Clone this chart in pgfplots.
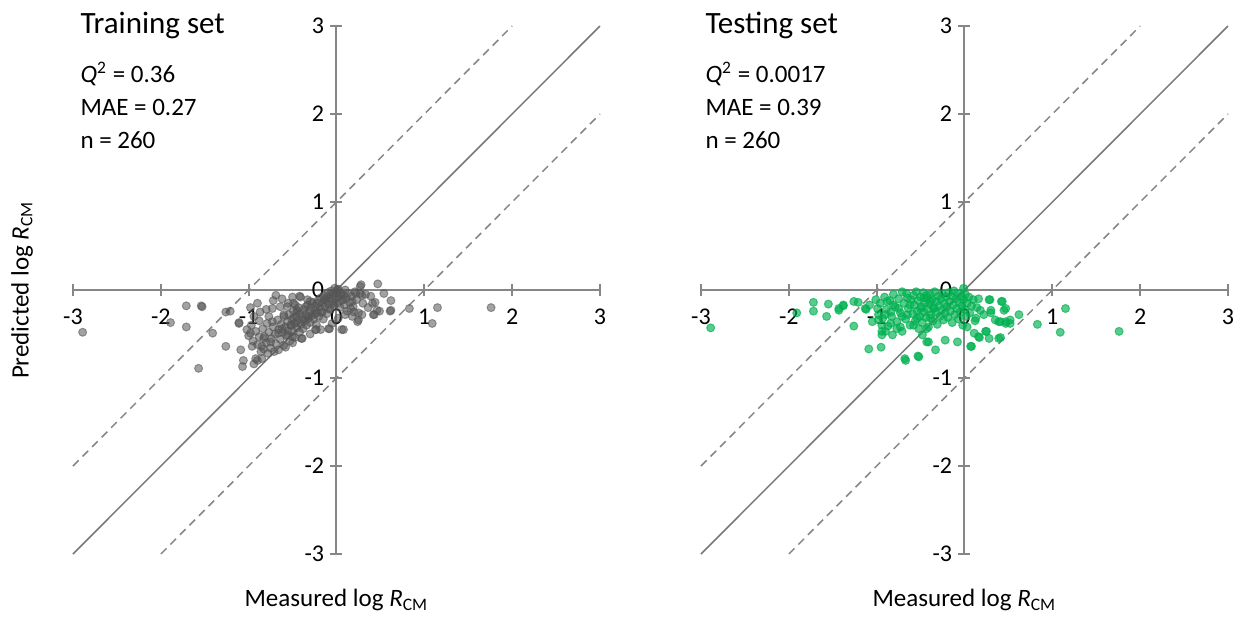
\documentclass[border=0pt]{standalone}
\usepackage{fontspec}
\setmainfont{Carlito}
\usepackage{pgfplots}
\pgfplotsset{compat=1.18}
\definecolor{axgray}{RGB}{134,134,134}
\definecolor{diaggray}{RGB}{120,120,120}
\definecolor{ptgray}{RGB}{85,85,85}
\definecolor{ptgreen}{RGB}{0,176,80}
\pgfplotsset{
  panel/.style={anchor=south west, scale only axis, width=210.8pt, height=211.2pt,
    xmin=-3, xmax=3, ymin=-3, ymax=3, axis lines=middle,
    axis line style={draw=axgray, line width=0.8pt, -},
    xtick={-3,-2,-1,0,1,2,3}, ytick={-3,-2,-1,0,1,2,3},
    tick align=center, major tick length=4.8pt,
    tick style={draw=axgray, line width=0.8pt},
    hide obscured x ticks=false, hide obscured y ticks=false,
    /pgf/number format/assume math mode=true,
    tick label style={font=\fontsize{9.6}{11}\selectfont},
    xticklabel style={yshift=-1.5pt}, yticklabel style={xshift=1pt},
    clip=false},
  diag/.style={diaggray, line width=0.6pt, no marks},
  dash/.style={axgray, line width=0.6pt, no marks, dash pattern=on 3.2pt off 2.2pt},
}
\begin{document}
\begin{tikzpicture}
\path[use as bounding box] (0,0) rectangle (493.2pt,247.2pt);
% training
\begin{axis}[panel, at={(29.2pt,25.6pt)}]
  \addplot[diag] coordinates {(-3,-3)(3,3)};
  \addplot[dash] coordinates {(-3,-2)(2,3)};
  \addplot[dash] coordinates {(-2,-3)(3,2)};
  \addplot[only marks, mark=*, mark size=1.6pt, color=ptgray, opacity=0.55] coordinates {
    (-2.89,-0.48)(-1.71,-0.18)(-1.54,-0.18)(-1.89,-0.37)(-1.71,-0.42)(-1.57,-0.89)
    (-1.41,-0.49)(-1.26,-0.64)(-1.26,-0.25)(-1.21,-0.24)(-1.11,-0.37)(-1.09,-0.68)
    (-1.06,-0.80)(-1.07,-0.87)(-0.90,-0.80)(-0.69,-0.06)(-0.42,-0.07)(-1.53,-0.19)
    (0.47,0.07)(0.28,0.06)(0.54,-0.04)(0.62,-0.12)(0.61,-0.24)(0.83,-0.21)
    (1.15,-0.20)(1.09,-0.38)(1.76,-0.20)(0.49,-0.24)(0.43,-0.28)(0.29,-0.28)
    (0.24,-0.36)(0.08,-0.45)(-0.08,-0.44)(-0.23,-0.45)(0.44,-0.14)(0.39,-0.07)
    (0.27,-0.04)(0.20,-0.25)
    (-0.94,-0.84)(-0.92,-0.78)(-0.96,-0.64)(-0.85,-0.64)(-0.83,-0.67)
    (-1.11,-0.38)(-1.02,-0.45)(-0.98,-0.49)(-0.88,-0.53)(-0.83,-0.55)
    (-0.87,-0.25)(-0.94,-0.30)(-0.77,-0.30)(-0.73,-0.36)(-0.73,-0.21)(-0.64,-0.19)
    (-0.41,-0.08)(-0.33,-0.11)(-0.75,-0.59)(-0.71,-0.70)(-0.66,-0.49)(-0.62,-0.44)
    (-0.56,-0.51)(-0.52,-0.40)(-0.49,-0.32)(-0.45,-0.25)(-0.60,-0.28)(-0.56,-0.19)(-0.47,-0.17)
    (-0.49,-0.15)(-0.45,-0.23)(-0.35,-0.19)(-0.30,-0.13)(-0.22,-0.15)(-0.14,-0.11)
    (-0.11,-0.08)(-0.05,-0.04)(0.01,0.00)(0.05,-0.06)(0.08,-0.11)(-0.03,-0.15)
    (-0.09,-0.21)(-0.16,-0.25)(-0.24,-0.27)(-0.32,-0.30)(-0.39,-0.34)(-0.47,-0.38)
    (-0.50,-0.53)(-0.39,-0.55)(-0.24,-0.45)(-0.09,-0.44)(0.06,-0.45)(0.10,-0.28)
    (0.16,-0.21)(0.18,-0.13)(0.22,-0.04)(0.27,0.04)(0.29,-0.06)(0.41,-0.15)
    (0.46,-0.23)(0.62,-0.23)(0.42,-0.28)(0.25,-0.34)(0.18,-0.30)
    (-1.00,-0.52)(-0.97,-0.40)(-0.95,-0.58)(-0.92,-0.47)(-0.90,-0.62)(-0.88,-0.35)
    (-0.86,-0.70)(-0.84,-0.44)(-0.82,-0.53)(-0.80,-0.60)(-0.79,-0.38)(-0.77,-0.48)
    (-0.75,-0.66)(-0.74,-0.55)(-0.72,-0.42)(-0.70,-0.50)(-0.69,-0.61)(-0.67,-0.34)
    (-0.66,-0.45)(-0.64,-0.56)(-0.63,-0.39)(-0.61,-0.48)(-0.60,-0.30)(-0.60,-0.63)
    (-0.58,-0.42)(-0.57,-0.52)(-0.56,-0.36)(-0.55,-0.46)(-0.54,-0.28)(-0.53,-0.58)
    (-0.52,-0.40)(-0.51,-0.33)(-0.50,-0.47)(-0.49,-0.24)(-0.48,-0.38)(-0.47,-0.54)
    (-0.46,-0.30)(-0.45,-0.43)(-0.44,-0.35)(-0.43,-0.20)(-0.42,-0.48)(-0.41,-0.27)
    (-0.40,-0.39)(-0.39,-0.31)(-0.38,-0.44)(-0.37,-0.22)(-0.36,-0.35)(-0.35,-0.28)
    (-0.34,-0.40)(-0.33,-0.17)(-0.32,-0.32)(-0.31,-0.24)(-0.30,-0.37)(-0.29,-0.20)
    (-0.28,-0.29)(-0.27,-0.14)(-0.26,-0.33)(-0.25,-0.23)(-0.24,-0.18)(-0.23,-0.39)
    (-0.22,-0.26)(-0.21,-0.12)(-0.20,-0.30)
    (-0.19,-0.20)(-0.18,-0.09)(-0.17,-0.25)(-0.16,-0.15)(-0.15,-0.33)(-0.14,-0.06)
    (-0.13,-0.19)(-0.12,-0.12)(-0.11,-0.27)(-0.10,-0.03)(-0.09,-0.16)(-0.08,-0.09)
    (-0.07,-0.22)(-0.06,-0.01)(-0.05,-0.13)(-0.04,-0.06)(-0.03,-0.18)(-0.02,0.02)
    (-0.01,-0.10)(0.00,-0.04)(0.01,-0.15)(0.02,0.01)(0.03,-0.08)(0.04,-0.20)
    (0.05,-0.03)(0.06,-0.12)(0.08,-0.06)(0.09,-0.17)(0.10,0.00)(0.11,-0.09)
    (0.12,-0.24)(0.13,-0.04)(0.15,-0.14)(0.17,-0.07)(0.19,-0.19)(0.21,-0.02)
    (0.23,-0.11)(0.25,-0.26)(0.30,-0.15)(0.33,-0.05)(0.36,-0.20)
    (-0.98,-0.20)(-0.90,-0.15)(-0.80,-0.22)(-0.72,-0.12)(-0.62,-0.10)(-0.55,-0.15)(-0.50,-0.08)
    (-0.85,-0.78)(-0.78,-0.72)(-0.66,-0.68)(-0.58,-0.65)(-0.50,-0.60)(-0.40,-0.55)
    (-0.30,-0.50)(-0.18,-0.45)(-0.05,-0.38)(0.02,-0.32)
  };
  \node[anchor=west, inner sep=0, font=\fontsize{12.4}{14}\selectfont] at (rel axis cs:0,1) [xshift=2.8pt, yshift=0.4pt] {Training set};
  \node[anchor=west, inner sep=0, font=\fontsize{10}{12}\selectfont] at (rel axis cs:0,1) [xshift=2.8pt, yshift=-19.2pt] {\textit{Q}\textsuperscript{2} = 0.36};
  \node[anchor=west, inner sep=0, font=\fontsize{10}{12}\selectfont] at (rel axis cs:0,1) [xshift=2.8pt, yshift=-32.4pt] {MAE = 0.27};
  \node[anchor=west, inner sep=0, font=\fontsize{10}{12}\selectfont] at (rel axis cs:0,1) [xshift=2.8pt, yshift=-45.6pt] {n = 260};
  \node[font=\fontsize{10}{12}\selectfont] at (rel axis cs:0.5,0) [yshift=-18.4pt] {Measured log \textit{R}\textsubscript{CM}};
  \node[rotate=90, font=\fontsize{10}{12}\selectfont] at (rel axis cs:0,0.5) [yshift=20.4pt] {Predicted log \textit{R}\textsubscript{CM}};
\end{axis}
% testing
\begin{axis}[panel, at={(280.4pt,25.6pt)}]
  \addplot[diag] coordinates {(-3,-3)(3,3)};
  \addplot[dash] coordinates {(-3,-2)(2,3)};
  \addplot[dash] coordinates {(-2,-3)(3,2)};
  \addplot[only marks, mark=*, mark size=1.6pt, color=ptgreen, opacity=0.65] coordinates {
    (-2.89,-0.43)(-1.91,-0.26)(-1.72,-0.14)(-1.72,-0.24)(-1.55,-0.16)(-1.57,-0.30)
    (-1.43,-0.23)(-1.38,-0.18)(-1.26,-0.13)(-1.21,-0.14)(-1.26,-0.41)(-1.09,-0.67)
    (-0.95,-0.65)(-0.68,-0.78)(-0.52,-0.76)(-1.12,-0.22)(-1.01,-0.11)(-0.99,-0.21)
    (-0.94,-0.47)(-0.84,-0.38)(-0.73,-0.42)(-0.82,-0.51)(-1.38,-0.17)(-1.43,-0.21)
    (-1.13,-0.21)(-1.08,-0.17)(-1.05,-0.36)(-0.98,-0.34)(-0.94,-0.40)(-0.94,-0.51)
    (-0.90,-0.47)(-0.77,-0.44)(-0.71,-0.30)(-0.75,-0.21)(-0.71,-0.02)(-0.65,-0.09)
    (-0.62,-0.17)(-0.65,-0.28)(-0.58,-0.40)(-0.54,-0.32)(-0.50,-0.21)(-0.46,-0.09)
    (-0.43,-0.06)(-0.39,-0.13)(-0.35,-0.21)(-0.39,-0.32)(-0.43,-0.44)(-0.48,-0.51)
    (-0.41,-0.59)(-0.67,-0.80)(-0.53,-0.75)(-0.84,-0.25)(-0.81,-0.17)(-0.88,-0.13)(-0.90,-0.28)
    (-0.01,0.02)(0.18,-0.23)(0.28,-0.11)(0.30,-0.23)(0.43,-0.13)(0.45,-0.23)
    (0.47,-0.38)(0.39,-0.36)(0.52,-0.38)(0.62,-0.28)(0.35,-0.34)(0.24,-0.47)
    (0.16,-0.53)(0.28,-0.55)(0.39,-0.55)(0.07,-0.64)(-0.08,-0.59)(-0.22,-0.57)
    (-0.33,-0.68)(-0.43,-0.59)(0.11,-0.49)(0.03,-0.42)(0.13,-0.32)(0.22,-0.28)
    (1.15,-0.21)(0.83,-0.39)(1.09,-0.48)(1.76,-0.47)(0.52,-0.34)(0.47,-0.36)
    (0.41,-0.36)(0.42,-0.13)(0.29,-0.11)(0.30,-0.26)(0.47,-0.21)(0.08,-0.64)
    (0.17,-0.54)(0.41,-0.54)(0.25,-0.47)
    (-0.98,-0.28)(-0.96,-0.15)(-0.93,-0.32)(-0.91,-0.08)(-0.89,-0.22)(-0.87,-0.41)
    (-0.85,-0.12)(-0.83,-0.30)(-0.81,-0.05)(-0.79,-0.19)(-0.77,-0.36)(-0.75,-0.10)
    (-0.73,-0.26)(-0.71,-0.47)(-0.69,-0.15)(-0.67,-0.33)(-0.66,-0.04)(-0.64,-0.21)
    (-0.62,-0.40)(-0.61,-0.11)
    (-0.59,-0.27)(-0.58,-0.06)(-0.57,-0.17)(-0.56,-0.35)(-0.55,-0.02)(-0.54,-0.24)
    (-0.53,-0.12)(-0.52,-0.44)(-0.51,-0.30)(-0.50,-0.08)(-0.49,-0.19)(-0.48,-0.37)
    (-0.47,-0.03)(-0.46,-0.25)(-0.45,-0.14)(-0.44,-0.31)(-0.43,-0.09)(-0.42,-0.22)
    (-0.41,-0.42)(-0.40,-0.16)(-0.39,-0.05)(-0.38,-0.28)(-0.37,-0.11)(-0.36,-0.35)
    (-0.35,-0.20)(-0.34,-0.02)(-0.33,-0.25)(-0.32,-0.13)(-0.31,-0.39)(-0.30,-0.07)
    (-0.29,-0.18)(-0.28,-0.30)(-0.27,-0.10)(-0.26,-0.23)(-0.25,-0.04)(-0.24,-0.34)
    (-0.23,-0.15)(-0.22,-0.26)(-0.21,-0.08)(-0.20,-0.19)
    (-0.19,-0.31)(-0.18,-0.03)(-0.17,-0.13)(-0.16,-0.24)(-0.15,-0.07)(-0.14,-0.37)
    (-0.13,-0.17)(-0.12,-0.01)(-0.11,-0.28)(-0.10,-0.10)(-0.09,-0.21)(-0.08,-0.04)
    (-0.07,-0.33)(-0.06,-0.14)(-0.05,-0.25)(-0.04,-0.07)(-0.03,-0.18)(-0.02,-0.40)
    (-0.01,-0.11)(0.00,-0.22)(0.01,-0.05)(0.02,-0.30)(0.03,-0.15)(0.05,-0.08)
    (0.06,-0.26)(0.08,-0.18)(0.10,-0.11)(0.12,-0.35)(0.14,-0.20)(0.16,-0.10)
  };
  \node[anchor=west, inner sep=0, font=\fontsize{12.4}{14}\selectfont] at (rel axis cs:0,1) [xshift=1.6pt, yshift=0.4pt] {Testing set};
  \node[anchor=west, inner sep=0, font=\fontsize{10}{12}\selectfont] at (rel axis cs:0,1) [xshift=1.6pt, yshift=-19.2pt] {\textit{Q}\textsuperscript{2} = 0.0017};
  \node[anchor=west, inner sep=0, font=\fontsize{10}{12}\selectfont] at (rel axis cs:0,1) [xshift=1.6pt, yshift=-32.4pt] {MAE = 0.39};
  \node[anchor=west, inner sep=0, font=\fontsize{10}{12}\selectfont] at (rel axis cs:0,1) [xshift=1.6pt, yshift=-45.6pt] {n = 260};
  \node[font=\fontsize{10}{12}\selectfont] at (rel axis cs:0.5,0) [yshift=-18.4pt] {Measured log \textit{R}\textsubscript{CM}};
\end{axis}
\end{tikzpicture}
\end{document}
